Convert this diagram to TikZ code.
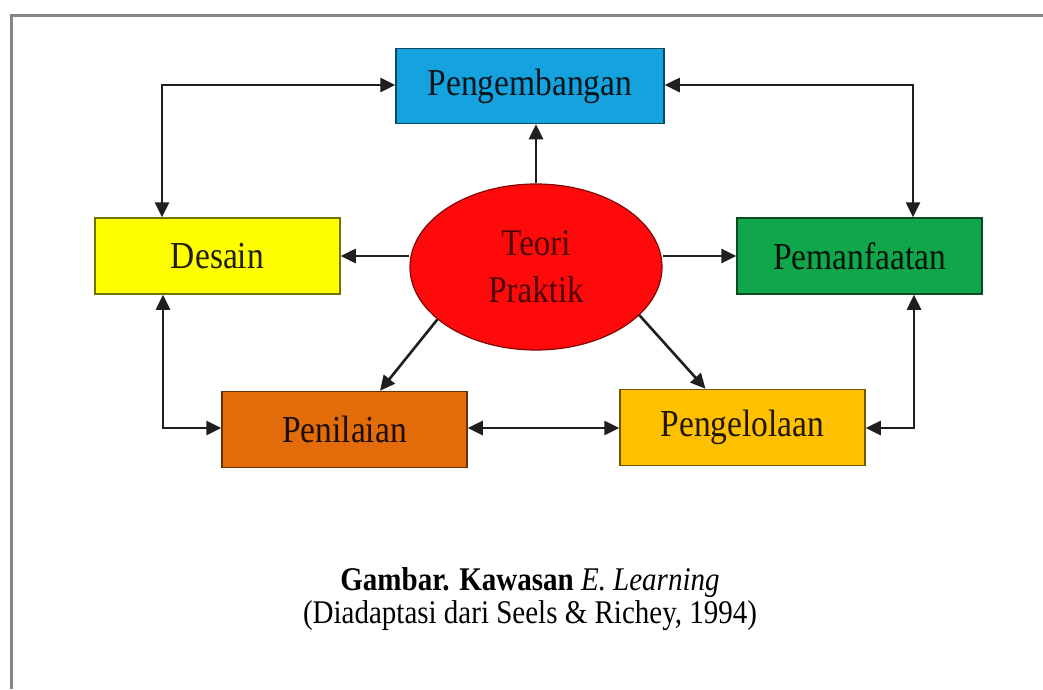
\documentclass[tikz,border=0pt]{standalone}
\usepackage{graphicx}
\usepackage{fontspec}
\setmainfont{Liberation Serif}
\usetikzlibrary{shapes.geometric,arrows.meta,calc}
\definecolor{cblue}{HTML}{14A3DE}
\definecolor{cyell}{HTML}{FFFF00}
\definecolor{cgreen}{HTML}{10A64C}
\definecolor{corange}{HTML}{E36C0A}
\definecolor{cgold}{HTML}{FFC000}
\definecolor{cred}{HTML}{FF0A0A}
\definecolor{frame}{HTML}{858585}
\newcommand{\vstr}[1]{\scalebox{1}[1.14]{#1}}
\begin{document}
\begin{tikzpicture}[x=1pt,y=-1pt,
  box/.style={draw=#1!45!black, fill=#1, line width=1.5pt, minimum width=245pt,
    minimum height=76pt, inner sep=0pt, text=#1!12!black,
    font=\fontsize{33.5}{40}\selectfont},
  conn/.style={line width=2.6pt, draw=black!88, -{Triangle[length=15pt,width=14pt]}},
  biconn/.style={line width=2.6pt, draw=black!88,
    {Triangle[length=15pt,width=14pt]}-{Triangle[length=15pt,width=14pt]}},
  captext/.style={anchor=base, inner sep=0pt, font=\fontsize{29}{33}\selectfont}
]
\useasboundingbox (0,0) rectangle (1043,689);
\fill[white] (0,0) rectangle (1043,689);
\draw[frame, line width=3pt] (11,689) -- (11,15) -- (1043,15);

\node[box=cblue, minimum width=268pt, minimum height=75pt] (pg) at (530,86) {\vstr{Pengembangan}};
\node[box=cyell] (ds) at (217.5,256) {\vstr{Desain}};
\node[box=cgreen] (pm) at (859.5,256) {\vstr{Pemanfaatan}};
\node[box=corange] (pn) at (344.5,429.5) {\vstr{Penilaian}};
\node[box=cgold] (pl) at (742.5,427.5) {\vstr{Pengelolaan}};
\node[ellipse, draw=cred!50!black, fill=cred, line width=1.2pt, minimum width=252pt,
  minimum height=166pt, inner sep=0pt, text=cred!30!black, align=center,
  font=\fontsize{33}{47}\selectfont] (el) at (536,267) {\vstr{Teori}\\\vstr{Praktik}};

\coordinate (tl) at (162,85);
\coordinate (tr) at (913,85);
\coordinate (bl) at (163,428);
\coordinate (br) at (914,428);

\draw[biconn] (ds.north -| tl) -- (tl) -- (pg.west |- tl);
\draw[biconn] (pm.north -| tr) -- (tr) -- (pg.east |- tr);
\draw[biconn] (ds.south -| bl) -- (bl) -- (pn.west |- bl);
\draw[biconn] (pm.south -| br) -- (br) -- (pl.east |- br);
\draw[biconn] (pn.east |- bl) -- (pl.west |- bl);

\draw[conn] (el.north) -- (el.north |- pg.south);
\draw[conn] (el.west |- ds.east) -- (ds.east);
\draw[conn] (el.east |- pm.west) -- (pm.west);
\draw[conn] (el.208) -- ([xshift=35.5pt]pn.north);
\draw[conn] (el.335) -- ([xshift=-37pt]pl.north);

\node[captext] (cap1) at (530,590) {\vstr{\textbf{Gambar. Kawasan} \textit{E. Learning}}};
\node[captext] (cap2) at (530,623) {\vstr{(Diadaptasi dari Seels \& Richey, 1994)}};
\end{tikzpicture}
\end{document}
